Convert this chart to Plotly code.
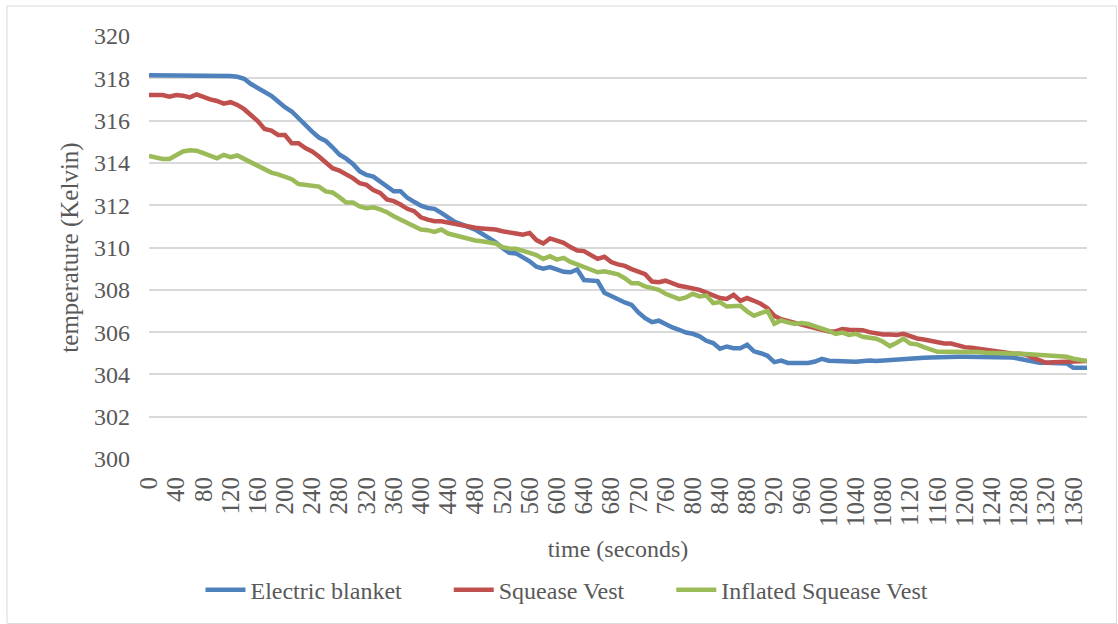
import plotly.graph_objects as go

time_s = list(range(0, 1390, 10))

electric_blanket = [
    318.15, 318.15, 318.16, 318.16, 318.16, 318.16, 318.16, 318.15, 318.15, 318.14,
    318.14, 318.13, 318.11, 318.07, 317.98, 317.73, 317.55, 317.37, 317.17, 316.90,
    316.63, 316.43, 316.10, 315.76, 315.48, 315.20, 315.04, 314.74, 314.40, 314.20,
    313.95, 313.60, 313.43, 313.35, 313.12, 312.90, 312.66, 312.66, 312.35, 312.16,
    311.98, 311.87, 311.83, 311.64, 311.43, 311.21, 311.09, 310.98, 310.85, 310.65,
    310.46, 310.25, 309.98, 309.75, 309.72, 309.56, 309.35, 309.09, 309.00, 309.07,
    308.96, 308.85, 308.83, 308.96, 308.46, 308.44, 308.41, 307.86, 307.70, 307.55,
    307.40, 307.29, 306.93, 306.66, 306.47, 306.54, 306.35, 306.22, 306.11, 305.98,
    305.92, 305.80, 305.59, 305.48, 305.21, 305.32, 305.24, 305.24, 305.40, 305.09,
    305.00, 304.88, 304.58, 304.65, 304.54, 304.54, 304.54, 304.54, 304.61, 304.74,
    304.65, 304.65, 304.66, 304.61, 304.60, 304.63, 304.66, 304.63, 304.66, 304.66,
    304.68, 304.74, 304.74, 304.76, 304.79, 304.80, 304.82, 304.83, 304.83, 304.83,
    304.83, 304.83, 304.80, 304.80, 304.82, 304.82, 304.82, 304.80, 304.74, 304.66,
    304.58, 304.55, 304.55, 304.55, 304.55, 304.52, 304.31, 304.31, 304.31,
]

squease_vest = [
    317.21, 317.21, 317.21, 317.13, 317.21, 317.18, 317.10, 317.24, 317.10, 317.00,
    316.93, 316.80, 316.87, 316.74, 316.54, 316.27, 315.98, 315.60, 315.53, 315.32,
    315.32, 314.93, 314.93, 314.70, 314.54, 314.30, 314.00, 313.75, 313.64, 313.48,
    313.28, 313.04, 312.96, 312.72, 312.58, 312.27, 312.19, 312.03, 311.83, 311.72,
    311.43, 311.32, 311.24, 311.24, 311.17, 311.09, 311.06, 310.98, 310.93, 310.90,
    310.88, 310.85, 310.77, 310.74, 310.66, 310.61, 310.69, 310.35, 310.19, 310.43,
    310.33, 310.22, 310.02, 309.86, 309.83, 309.62, 309.46, 309.56, 309.31, 309.20,
    309.13, 308.98, 308.87, 308.74, 308.39, 308.36, 308.43, 308.31, 308.19, 308.13,
    308.08, 308.00, 307.87, 307.73, 307.61, 307.57, 307.76, 307.48, 307.61, 307.48,
    307.34, 307.13, 306.77, 306.61, 306.54, 306.43, 306.35, 306.27, 306.19, 306.11,
    306.03, 306.03, 306.14, 306.11, 306.09, 306.09, 306.00, 305.92, 305.89, 305.89,
    305.86, 305.92, 305.81, 305.70, 305.65, 305.57, 305.50, 305.46, 305.46, 305.37,
    305.29, 305.26, 305.21, 305.18, 305.10, 305.06, 305.02, 304.99, 304.98, 304.94,
    304.79, 304.66, 304.55, 304.58, 304.60, 304.60, 304.63, 304.63, 304.63,
]

inflated_squease_vest = [
    314.33, 314.25, 314.19, 314.19, 314.38, 314.54, 314.60, 314.58, 314.46, 314.33,
    314.22, 314.38, 314.27, 314.35, 314.19, 314.06, 313.90, 313.70, 313.54, 313.46,
    313.32, 313.23, 313.00, 312.96, 312.88, 312.88, 312.65, 312.60, 312.38, 312.13,
    312.13, 311.94, 311.86, 311.90, 311.80, 311.67, 311.48, 311.32, 311.17, 311.00,
    310.85, 310.82, 310.74, 310.85, 310.66, 310.58, 310.49, 310.41, 310.33, 310.30,
    310.27, 310.19, 310.02, 309.95, 309.94, 309.87, 309.75, 309.64, 309.46, 309.59,
    309.43, 309.51, 309.32, 309.20, 309.07, 308.96, 308.83, 308.88, 308.80, 308.73,
    308.55, 308.31, 308.31, 308.16, 308.08, 308.00, 307.81, 307.69, 307.56, 307.64,
    307.81, 307.69, 307.73, 307.37, 307.42, 307.21, 307.21, 307.24, 306.98, 306.77,
    306.90, 307.00, 306.39, 306.55, 306.46, 306.39, 306.43, 306.38, 306.27, 306.19,
    306.06, 305.91, 305.98, 305.87, 305.92, 305.78, 305.73, 305.69, 305.54, 305.34,
    305.50, 305.69, 305.46, 305.42, 305.29, 305.18, 305.07, 305.07, 305.07, 305.06,
    305.06, 305.10, 305.06, 305.02, 305.02, 305.02, 304.99, 304.99, 304.98, 304.96,
    304.94, 304.91, 304.90, 304.90, 304.90, 304.83, 304.74, 304.66, 304.63,
]

series_names = ["Electric blanket", "Squease Vest", "Inflated Squease Vest"]
series_colors = ["#4F81BD", "#C0504D", "#9BBB59"]
x_ticks = list(range(0, 1361, 40))
y_ticks = list(range(300, 321, 2))

FONT = "Liberation Serif, Times New Roman, serif"
TXT = "#595959"
PAD = "\u00a0" * 7

fig = go.Figure()
for i, (name, vals, col) in enumerate(zip(series_names,
                           [electric_blanket, squease_vest, inflated_squease_vest],
                           series_colors)):
    label = name + (PAD if i < len(series_names) - 1 else "")
    fig.add_trace(go.Scatter(x=time_s, y=vals, mode="lines", name=label,
                             line=dict(color=col, width=4.5)))

fig.update_layout(
    width=1118, height=624,
    margin=dict(l=149, r=31, t=36, b=165, autoexpand=False),
    paper_bgcolor="white", plot_bgcolor="white",
    font=dict(family=FONT, size=24, color=TXT),
    showlegend=True,
    legend=dict(orientation="h", x=0.4456, xanchor="center", y=-0.31, yanchor="middle",
                font=dict(family=FONT, size=24, color=TXT), itemwidth=40,
                bgcolor="rgba(0,0,0,0)"),
    shapes=[dict(type="rect", xref="paper", yref="paper",
                 x0=-0.1514, x1=1.0315, y0=-0.389, y1=1.0709,
                 line=dict(color="#d9d9d9", width=1), fillcolor="rgba(0,0,0,0)",
                 layer="below")],
)

fig.update_xaxes(
    range=[0, 1380], tickmode="array", tickvals=x_ticks,
    ticktext=[str(v) for v in x_ticks], tickangle=-90,
    tickfont=dict(family=FONT, size=25, color=TXT),
    showgrid=False, zeroline=False, showline=False, ticks="",
    ticklabelstandoff=12,
    title=dict(text="time (seconds)", font=dict(family=FONT, size=24, color=TXT), standoff=14),
    automargin=False,
)
fig.update_yaxes(
    range=[300, 320], tickmode="array", tickvals=y_ticks,
    tickfont=dict(family=FONT, size=24, color=TXT),
    showgrid=True, gridcolor="#d9d9d9", gridwidth=1.5, zeroline=False, showline=False,
    ticks="", ticklabelstandoff=18,
    title=dict(text="temperature (Kelvin)", font=dict(family=FONT, size=25, color=TXT), standoff=8),
    automargin=False,
)

fig.write_html("out.html")
